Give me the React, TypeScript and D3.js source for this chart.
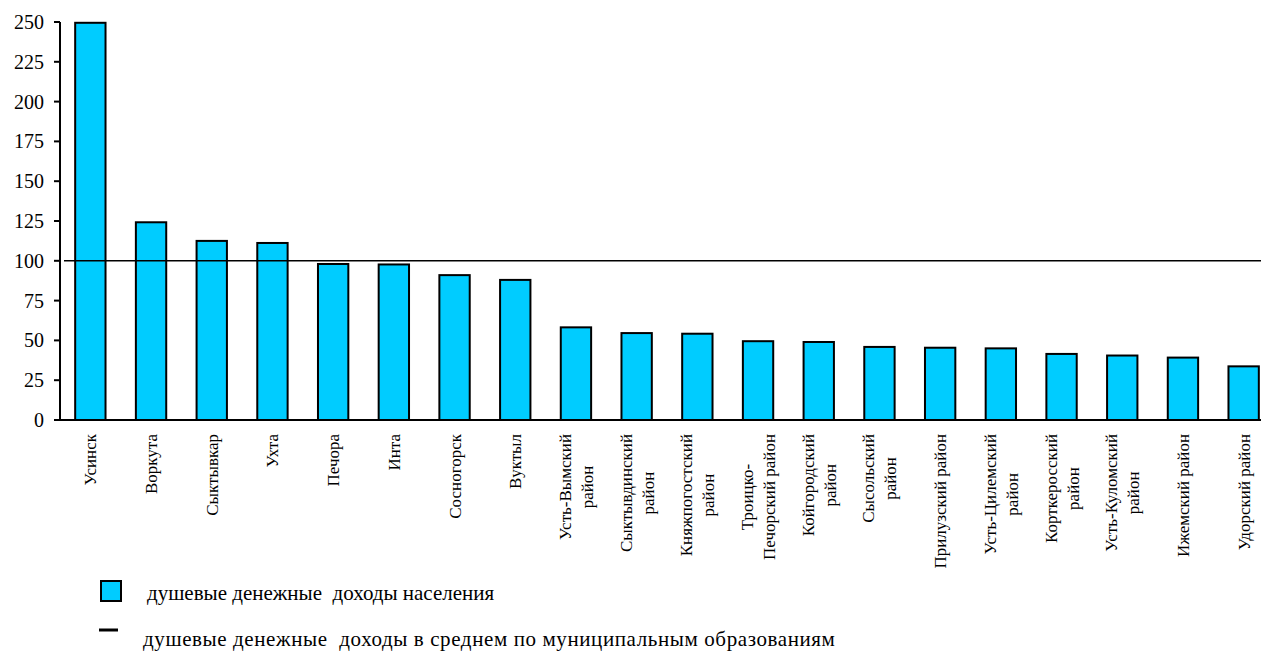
import { useLayoutEffect, useRef, useState } from 'react';
import * as d3 from 'd3';

const regions = [
  'Усинск', 'Воркута', 'Сыктывкар', 'Ухта', 'Печора', 'Инта', 'Сосногорск', 'Вуктыл',
  'Усть-Вымский\nрайон', 'Сыктывдинский\nрайон', 'Княжпогостский\nрайон', 'Троицко-\nПечорский район',
  'Койгородский\nрайон', 'Сысольский\nрайон', 'Прилузский район', 'Усть-Цилемский\nрайон',
  'Корткеросский\nрайон', 'Усть-Куломский\nрайон', 'Ижемский район', 'Удорский район',
];
const incomes = [
  249.5, 124.2, 112.5, 111.2, 98, 97.7, 91, 88,
  58.2, 54.6, 54.2, 49.5, 49, 45.9, 45.4, 45, 41.5, 40.5, 39.2, 33.7,
];
const averageIncome = 100;
const yTicks = [0, 25, 50, 75, 100, 125, 150, 175, 200, 225, 250];
const legendLabels = [
  'душевые денежные  доходы населения',
  'душевые денежные  доходы в среднем по муниципальным образованиям',
];

const W = 1261;
const H = 651;
const FONT = 'Times New Roman';
const BAR_COLOR = '#00ccff';

const left = 60, top = 22, bottom = 420;
const step = 60.7;
const x = d3.scaleBand<string>()
  .domain(regions)
  .range([left, left + step * regions.length])
  .paddingInner(0.5)
  .paddingOuter(0.25);
const y = d3.scaleLinear().domain([0, 250]).range([bottom, top]);

const labelTop = bottom + 14;
const lineGap = 22;

function CategoryLabel({ name }: { name: string }) {
  const lines = name.split('\n');
  const refs = useRef<(SVGTextElement | null)[]>([]);
  const [maxLen, setMaxLen] = useState(0);
  useLayoutEffect(() => {
    const m = d3.max(refs.current, t => (t ? t.getComputedTextLength() : 0)) || 0;
    setMaxLen(m);
  }, [name]);
  const cx = x(name)! + x.bandwidth() / 2;
  const cy = labelTop + maxLen / 2;
  return (
    <g>
      {lines.map((ln, j) => {
        const off = (j - (lines.length - 1) / 2) * lineGap;
        return (
          <text
            key={j}
            ref={el => { refs.current[j] = el; }}
            transform={`translate(${cx + off},${cy}) rotate(-90)`}
            textAnchor="middle"
            dy="0.35em"
            fontFamily={FONT}
            fontSize={17}
            fill="#000"
          >
            {ln}
          </text>
        );
      })}
    </g>
  );
}

export default function App() {
  return (
    <svg
      width={W}
      height={H}
      fontFamily={FONT}
      style={{ position: 'absolute', left: 0, top: 0, background: '#fff' }}
    >
      {/* bars */}
      <g>
        {regions.map((r, i) => (
          <rect
            key={r}
            x={x(r)}
            y={y(incomes[i])}
            width={x.bandwidth()}
            height={y(0) - y(incomes[i])}
            fill={BAR_COLOR}
            stroke="#000"
            strokeWidth={2}
          />
        ))}
      </g>

      {/* y axis */}
      <line x1={left} x2={left} y1={y(250)} y2={y(0)} stroke="#000" strokeWidth={2} />
      {yTicks.map(t => (
        <g key={t}>
          <line x1={left - 6} x2={left} y1={y(t)} y2={y(t)} stroke="#000" strokeWidth={2} />
          <text
            x={left - 16}
            y={y(t)}
            dy="0.35em"
            textAnchor="end"
            fontFamily={FONT}
            fontSize={20}
            fill="#000"
          >
            {t}
          </text>
        </g>
      ))}

      {/* x baseline */}
      <line x1={left - 6} x2={W} y1={y(0)} y2={y(0)} stroke="#000" strokeWidth={2} />

      {/* average line */}
      <line
        x1={left + 4}
        x2={W}
        y1={y(averageIncome)}
        y2={y(averageIncome)}
        stroke="#000"
        strokeWidth={1.6}
      />

      {regions.map(r => <CategoryLabel key={r} name={r} />)}

      {/* legend */}
      <rect x={101} y={581} width={20} height={20} fill={BAR_COLOR} stroke="#000" strokeWidth={2} />
      <text x={147} y={600} fontFamily={FONT} fontSize={21} fill="#000" style={{ whiteSpace: 'pre' }}>
        {legendLabels[0]}
      </text>
      <line x1={99} x2={118} y1={630} y2={630} stroke="#000" strokeWidth={3} />
      <text
        x={143}
        y={646}
        fontFamily={FONT}
        fontSize={21}
        fill="#000"
        letterSpacing={0.6}
        style={{ whiteSpace: 'pre' }}
      >
        {legendLabels[1]}
      </text>
    </svg>
  );
}
